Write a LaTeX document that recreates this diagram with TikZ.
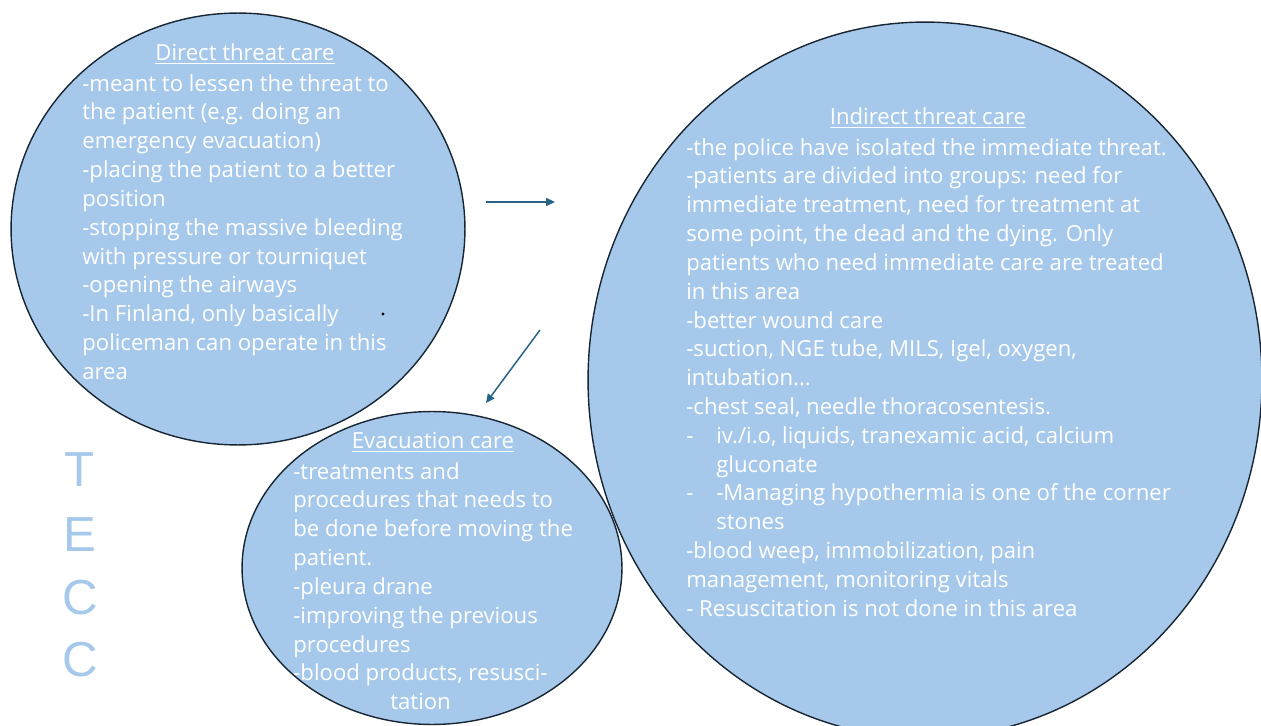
\documentclass[tikz,border=0pt]{standalone}
\usepackage{fontspec}
\setmainfont{Open Sans}
\newfontfamily\teccfont{Liberation Sans}
\usetikzlibrary{shapes.geometric,arrows.meta}

\definecolor{bubble}{RGB}{166,201,235}
\definecolor{rim}{RGB}{24,38,52}
\definecolor{arrowblue}{RGB}{38,99,135}

\begin{document}
\begin{tikzpicture}[x=0.02cm,y=-0.02cm,
  zone/.style={ellipse,draw=rim,fill=bubble,line width=0.8pt,inner sep=0pt},
  title/.style={text=white,inner sep=0pt,font=\fontsize{12.6}{16.4}\selectfont},
  body/.style={text=white,align=left,anchor=north west,inner sep=0pt,font=\fontsize{12.6}{16.4}\selectfont},
  flow/.style={draw=arrowblue,line width=0.85pt,-{Triangle[length=5pt,width=4.5pt]}}]
\clip (0,0) rectangle (1261,726);
\node[zone,minimum width=9.08cm,minimum height=8.64cm] (direct) at (238,229) {};
\node[zone,minimum width=13.48cm,minimum height=14.32cm] (indirect) at (925,380) {};
\node[zone,minimum width=7.6cm,minimum height=6.26cm] (evac) at (432,568) {};
\node[title] (directtitle) at (245,54) {\underline{Direct threat care}};
\node[body] (directtext) at (82,74) {-meant to lessen the threat to\\
the patient (e.g. doing an\\
emergency evacuation)\\
-placing the patient to a better\\
position\\
-stopping the massive bleeding\\
with pressure or tourniquet\\
-opening the airways\\
-In Finland, only basically\\
policeman can operate in this\\
area};
\node[title] (indirecttitle) at (928,118) {\underline{Indirect threat care}};
\node[body] (indirecttext) at (686,138) {-the police have isolated the immediate threat.\\
-patients are divided into groups: need for\\
immediate treatment, need for treatment at\\
some point, the dead and the dying. Only\\
patients who need immediate care are treated\\
in this area\\
-better wound care\\
-suction, NGE tube, MILS, Igel, oxygen,\\
intubation...\\
-chest seal, needle thoracosentesis.\\
\makebox[0.6cm][l]{-}iv./i.o, liquids, tranexamic acid, calcium\\
\hspace*{0.6cm}gluconate\\
\makebox[0.6cm][l]{-}-Managing hypothermia is one of the corner\\
\hspace*{0.6cm}stones\\
-blood weep, immobilization, pain\\
management, monitoring vitals\\
- Resuscitation is not done in this area};
\node[title] (evactitle) at (433,442) {\underline{Evacuation care}};
\node[body] (evactext) at (293,462) {-treatments and\\
procedures that needs to\\
be done before moving the\\
patient.\\
-pleura drane\\
-improving the previous\\
procedures\\
-blood products, resusci-\\
\hspace*{1.94cm}tation};
\coordinate (go1) at (486,202);
\coordinate (go2) at (555,202);
\coordinate (back1) at (540,330);
\coordinate (back2) at (486,403);
\draw[flow] (go1) -- (go2);
\draw[flow] (back1) -- (back2);
\fill (383,314) circle (1.6);
\foreach \ch/\y in {T/470,E/535,C/598,C/660}
  \node[text=bubble,font=\teccfont\fontsize{28}{30}\selectfont] (tecc\y) at (80,\y) {\ch};
\end{tikzpicture}
\end{document}
